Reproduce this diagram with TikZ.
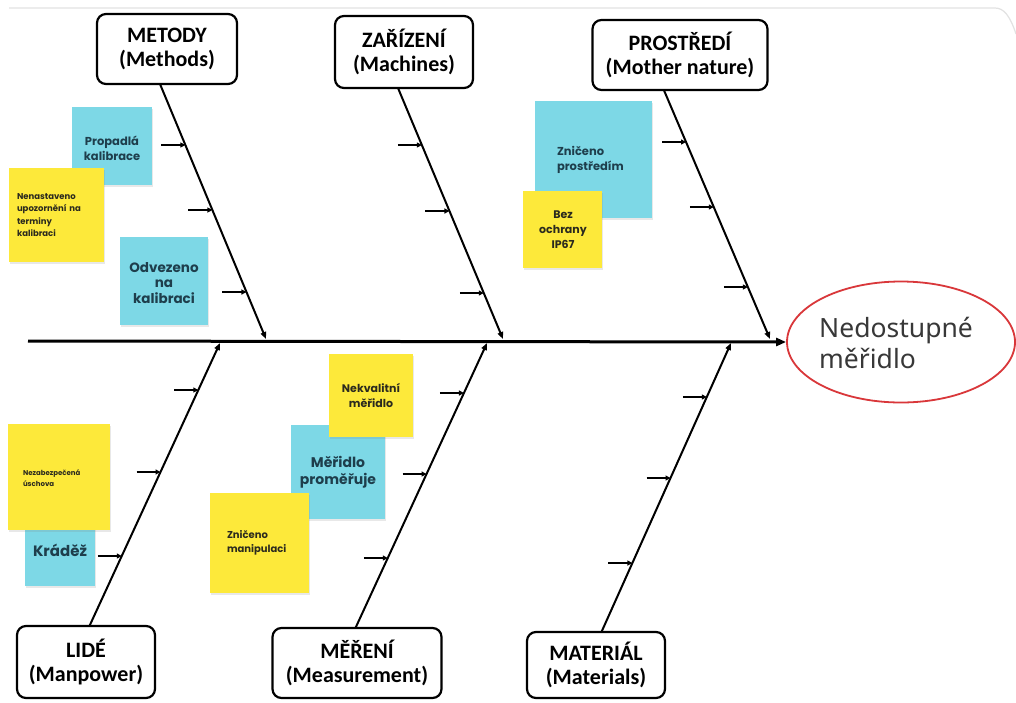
\documentclass[tikz,border=0pt]{standalone}
\usepackage{fontspec}
\newfontfamily\catfont{Carlito}
\newfontfamily\notefont{Poppins}
\newfontfamily\elfont{Noto Sans}
\usetikzlibrary{arrows.meta,shadows,shapes.geometric}
\definecolor{notecyan}{HTML}{7DD8E6}
\definecolor{noteyellow}{HTML}{FDE93A}
\definecolor{cyantext}{HTML}{1E3E4C}
\definecolor{yeltext}{HTML}{2B2A1E}
\definecolor{ellred}{HTML}{D9373A}
\definecolor{frame}{HTML}{E2E2E2}
\newcommand\twig[3]{%
  \coordinate (twA) at (0,#3);
  \coordinate (twB) at (1000,#3);
  \coordinate (twE) at (intersection of #1--#2 and twA--twB);
  \coordinate (twS) at ([xshift=-24pt]twE);
  \draw[twigarrow] (twS) -- (twE);}
\begin{document}
\begin{tikzpicture}[x=1pt,y=-1pt,
  catbox/.style={draw=black, line width=2.2pt, rounded corners=9pt, fill=white,
    align=center, inner sep=0pt, font=\catfont\bfseries\fontsize{22}{24}\selectfont},
  bone/.style={line width=2pt, -{Triangle[length=7pt,width=5.5pt]}},
  twigarrow/.style={line width=2pt, -{Triangle[length=5pt,width=5pt]}},
  note/.style={inner sep=0pt, drop shadow={opacity=0.18,shadow xshift=1pt,shadow yshift=-1.5pt}},
  cyannote/.style={note, fill=notecyan},
  yellownote/.style={note, fill=noteyellow},
  ctext/.style={text=cyantext, inner sep=0pt, font=\notefont\bfseries},
  ytext/.style={text=yeltext, inner sep=0pt, font=\notefont\bfseries},
]
\useasboundingbox (0,0) rectangle (1016,702);
\fill[white] (0,0) rectangle (1016,702);
% screenshot frame line
\draw[frame, line width=1.2pt] (9,8) -- (995,8) .. controls (1004,8) and (1010,16) .. (1016,34);

% bone coordinates
\coordinate (mS) at (160,84);  \coordinate (mE) at (266,339);
\coordinate (zS) at (398,88);  \coordinate (zE) at (503,339);
\coordinate (pS) at (663,88);  \coordinate (pE) at (770,339);
\coordinate (lS) at (89,627);  \coordinate (lE) at (220,343);
\coordinate (eS) at (355,629); \coordinate (eE) at (487,343);
\coordinate (aS) at (601,633); \coordinate (aE) at (731,343);

% effect
\node[ellipse, draw=ellred, line width=1.8pt, fill=white, minimum width=228pt,
  minimum height=121pt, inner sep=0pt] (eff) at (901,342) {};
\node[anchor=west, align=left, inner sep=0pt, text={rgb,255:red,56;green,56;blue,56},
  font=\elfont\fontsize{26.5}{31}\selectfont] (efftext) at (819,343) {Nedostupné\\měřidlo};

% spine
\coordinate (tail) at (28,341);
\draw[line width=3pt, -{Triangle[length=10pt,width=8pt]}] (tail) -- (eff.west);

% bones
\draw[bone] (mS) -- (mE);
\draw[bone] (zS) -- (zE);
\draw[bone] (pS) -- (pE);
\draw[bone] (lS) -- (lE);
\draw[bone] (eS) -- (eE);
\draw[bone] (aS) -- (aE);

% twigs
\twig{mS}{mE}{145} \twig{mS}{mE}{210} \twig{mS}{mE}{292}
\twig{zS}{zE}{145} \twig{zS}{zE}{211} \twig{zS}{zE}{293}
\twig{pS}{pE}{142} \twig{pS}{pE}{207} \twig{pS}{pE}{287}
\twig{lS}{lE}{390} \twig{lS}{lE}{472} \twig{lS}{lE}{556}
\twig{eS}{eE}{393} \twig{eS}{eE}{474} \twig{eS}{eE}{558}
\twig{aS}{aE}{397} \twig{aS}{aE}{478} \twig{aS}{aE}{563}

% category boxes
\node[catbox, minimum width=140pt, minimum height=70pt] (metody) at (167,49) {METODY\\(Methods)};
\node[catbox, minimum width=138pt, minimum height=72pt] (zarizeni) at (404,52) {ZAŘÍZENÍ\\(Machines)};
\node[catbox, minimum width=175pt, minimum height=70pt] (prostredi) at (680,55) {PROSTŘEDÍ\\(Mother nature)};
\node[catbox, minimum width=138pt, minimum height=72pt] (lide) at (86,662) {LIDÉ\\(Manpower)};
\node[catbox, minimum width=169pt, minimum height=70pt] (mereni) at (357,663) {MĚŘENÍ\\(Measurement)};
\node[catbox, minimum width=138pt, minimum height=66pt] (material) at (596,665) {MATERIÁL\\(Materials)};

% cyan notes
\node[cyannote, minimum width=80pt, minimum height=78pt] (c1) at (112,146) {};
\node[ctext, align=center, font=\notefont\bfseries\fontsize{11.5}{15}\selectfont] at (112,148) {Propadlá\\kalibrace};
\node[cyannote, minimum width=88pt, minimum height=88pt] (c2) at (164,281) {};
\node[ctext, align=center, font=\notefont\bfseries\fontsize{13.5}{15.5}\selectfont] at (164,283) {Odvezeno\\na\\kalibraci};
\node[cyannote, minimum width=117pt, minimum height=117pt] (c3) at (593.5,159.5) {};
\node[ctext, align=left, text width=74pt, font=\notefont\bfseries\fontsize{11.5}{15}\selectfont] at (594,160) {Zničeno\\prostředím};
\node[cyannote, minimum width=70pt, minimum height=72pt] (c4) at (60,550) {};
\node[ctext, align=center, font=\notefont\bfseries\fontsize{15}{16}\selectfont] at (60,550) {Kráděž};
\node[cyannote, minimum width=94pt, minimum height=94pt] (c5) at (338,472) {};
\node[ctext, align=center, font=\notefont\bfseries\fontsize{14}{17}\selectfont] at (338,472) {Měřidlo\\proměřuje};

% yellow notes
\node[yellownote, minimum width=95pt, minimum height=94pt] (y1) at (56.5,215) {};
\node[ytext, align=left, text width=80pt, font=\notefont\bfseries\fontsize{8.5}{12.5}\selectfont] at (57,215) {Nenastaveno\\upozornění na\\terminy\\kalibraci};
\node[yellownote, minimum width=79pt, minimum height=77pt] (y2) at (562.5,229.5) {};
\node[ytext, align=center, font=\notefont\bfseries\fontsize{11}{15}\selectfont] at (563,230) {Bez\\ochrany\\IP67};
\node[yellownote, minimum width=102pt, minimum height=106pt] (y3) at (59,477) {};
\node[ytext, align=left, text width=72pt, font=\notefont\bfseries\fontsize{7}{11}\selectfont] at (59,478) {Nezabezpečená\\úschova};
\node[yellownote, minimum width=84pt, minimum height=83pt] (y4) at (371,395.5) {};
\node[ytext, align=center, font=\notefont\bfseries\fontsize{11}{15}\selectfont] at (371,395) {Nekvalitní\\měřidlo};
\node[yellownote, minimum width=99pt, minimum height=100pt] (y5) at (259.5,543) {};
\node[ytext, align=left, text width=66pt, font=\notefont\bfseries\fontsize{10}{14}\selectfont] at (260,543) {Zničeno\\manipulaci};
\end{tikzpicture}
\end{document}
